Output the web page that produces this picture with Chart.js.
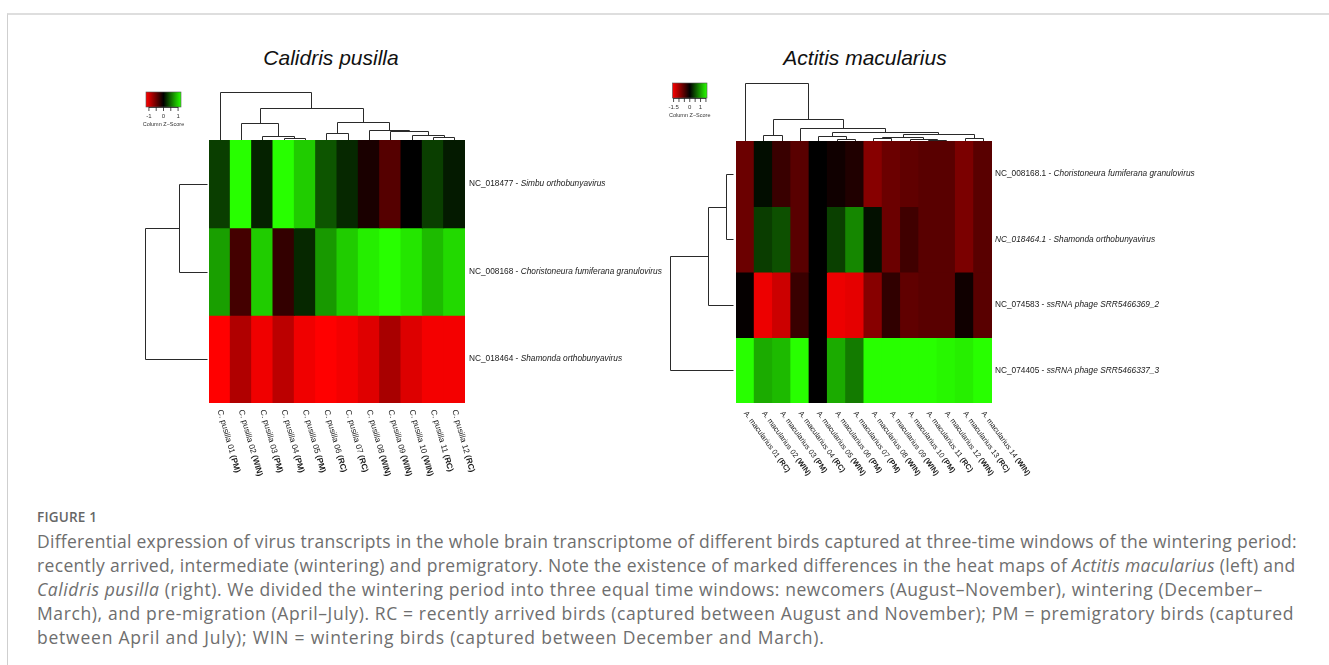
<!DOCTYPE html>
<html><head><meta charset="utf-8">
<script src="https://cdn.jsdelivr.net/npm/chart.js@4.4.1/dist/chart.umd.min.js"></script>
<style>
html,body{margin:0;padding:0;background:#fff;width:1329px;height:665px;overflow:hidden;position:relative;}
#frame{position:absolute;left:7px;top:13px;width:1340px;height:670px;border-top:2px solid #dedede;border-left:1px solid #cfcfcf;}
canvas{position:absolute;top:0;}
#c1{left:0px}
#c2{left:668px}
.title{position:absolute;top:46px;line-height:24px;font-family:"Liberation Sans",Arial,sans-serif;font-style:italic;font-size:21px;color:#111;transform:translateX(-50%);white-space:nowrap;}
#figlabel{position:absolute;left:37px;top:508px;line-height:18px;font-family:"Open Sans",sans-serif;font-weight:600;font-size:13.5px;color:#666;letter-spacing:0.2px;}
#caption{position:absolute;left:37px;top:529px;font-family:"Open Sans",sans-serif;font-size:17.5px;line-height:24px;color:#6e6e6e;white-space:pre;}
#caption span{display:block;}
</style></head>
<body>
<div id="frame"></div>
<div class="title" style="left:331px">Calidris pusilla</div>
<div class="title" style="left:865px">Actitis macularius</div>
<canvas id="c1" width="668" height="500" style="width:668px;height:500px"></canvas>
<canvas id="c2" width="661" height="500" style="width:661px;height:500px"></canvas>
<div id="figlabel">FIGURE 1</div>
<div id="caption"><span style="letter-spacing:0.28px">Differential expression of virus transcripts in the whole brain transcriptome of different birds captured at three-time windows of the wintering period:</span><span style="letter-spacing:0.34px">recently arrived, intermediate (wintering) and premigratory. Note the existence of marked differences in the heat maps of <i>Actitis macularius</i> (left) and</span><span style="letter-spacing:0.57px"><i>Calidris pusilla</i> (right). We divided the wintering period into three equal time windows: newcomers (August–November), wintering (December–</span><span style="letter-spacing:0.62px">March), and pre-migration (April–July). RC = recently arrived birds (captured between August and November); PM = premigratory birds (captured</span><span style="letter-spacing:0.78px">between April and July); WIN = wintering birds (captured between December and March).</span></div>
<script>
// ---------- Calidris pusilla ----------
const cpSamples = ["C. pusilla 01","C. pusilla 02","C. pusilla 03","C. pusilla 04","C. pusilla 05","C. pusilla 06","C. pusilla 07","C. pusilla 08","C. pusilla 09","C. pusilla 10","C. pusilla 11","C. pusilla 12"];
const cpGroups = ["(PM)","(WIN)","(PM)","(PM)","(PM)","(RC)","(RC)","(WIN)","(WIN)","(WIN)","(RC)","(RC)"];
const cpVirusIds = ["NC_018477","NC_008168","NC_018464"];
const cpVirusNames = ["Simbu orthobunyavirus","Choristoneura fumiferana granulovirus","Shamonda orthobunyavirus"];
const cpZSimbu =   [0.29, 1.20, 0.16, 1.20, 0.96, 0.40, 0.19, -0.12, -0.40, 0.00, 0.29, 0.12];
const cpZChoris =  [0.75, -0.32, 0.96, -0.24, 0.19, 0.72, 0.96, 1.12, 1.20, 1.08, 0.88, 1.02];
const cpZShamonda = [-1.20, -0.83, -1.13, -0.88, -1.13, -1.20, -1.15, -1.05, -0.79, -1.04, -1.15, -1.15];
const cpColMerges = [[-4,-5,1.7],[-3,1,4],[-2,2,17.3],[-6,-7,6.7],[-11,-12,3.3],[-10,5,5],[-9,6,9.3],[-8,7,10],[4,8,18.3],[3,9,31.7],[-1,10,48.3]];
const cpRowMerges = [[-1,-2,29],[1,-3,62.6]];
const cpKeyRange = 1.2;
const cpKeyTicks = [-1,-0.5,0,0.5,1];
const cpKeyLabels = ["-1","0","1"];
const cpKeyLabelVals = [-1,0,1];

// ---------- Actitis macularius ----------
const amSamples = ["A. macularius 01","A. macularius 02","A. macularius 03","A. macularius 04","A. macularius 05","A. macularius 06","A. macularius 07","A. macularius 08","A. macularius 09","A. macularius 10","A. macularius 11","A. macularius 12","A. macularius 13","A. macularius 14"];
const amGroups = ["(RC)","(WIN)","(PM)","(RC)","(WIN)","(PM)","(PM)","(WIN)","(WIN)","(PM)","(RC)","(WIN)","(RC)","(WIN)"];
const amVirusIds = ["NC_008168.1","NC_018464.1","NC_074583","NC_074405"];
const amVirusNames = ["Choristoneura fumiferana granulovirus","Shamonda orthobunyavirus","ssRNA phage SRR5466369_2","ssRNA phage SRR5466337_3"];
const amIdItalic = [false,true,false,false];
const amZChoris =  [-0.67, 0.08, -0.36, -0.56, 0, -0.10, -0.20, -0.85, -0.67, -0.60, -0.56, -0.56, -0.77, -0.56];
const amZShamonda = [-0.67, 0.38, 0.50, -0.56, 0, 0.40, 0.85, 0.10, -0.67, -0.40, -0.56, -0.56, -0.77, -0.56];
const amZPhage2 =  [-0.03, -1.49, -1.28, -0.36, 0, -1.49, -1.44, -0.85, -0.30, -0.60, -0.56, -0.56, -0.10, -0.56];
const amZPhage3 =  [1.60, 1.07, 1.17, 1.60, 0, 1.07, 0.77, 1.60, 1.60, 1.60, 1.60, 1.55, 1.50, 1.60];
const amColMerges = [[-6,-7,2],[-5,1,4.7],[-2,-3,5.7],[-8,-9,3],[-11,-12,1.4],[-10,5,2.4],[4,6,4],[-13,-14,3.4],[7,8,7.4],[2,9,9],[-4,10,13],[3,11,22.4],[-1,12,58]];
const amRowMerges = [[-1,-2,7.7],[1,-3,26],[2,-4,63.3]];
const amKeyRange = 1.6;
const amKeyTicks = [-1.5,-1,-0.5,0,0.5,1,1.5];
const amKeyLabels = ["-1.5","0","1"];
const amKeyLabelVals = [-1.5,0,1];

function zColor(z, R) {
  let t = Math.max(-1, Math.min(1, z / R));
  if (t < 0) return `rgb(${Math.round(255 * -t)},0,0)`;
  return `rgb(${Math.round(40 * t)},${Math.round(255 * t)},0)`;
}

function makeHeatmap(canvasId, c) {
  const nRows = c.rows.length;
  const datasets = c.rows.map((zs, r) => ({
    data: zs.map(() => [r, r + 1]),
    backgroundColor: zs.map(z => zColor(z, c.range)),
    borderWidth: 0,
    inflateAmount: 0.5,
    barPercentage: 1,
    categoryPercentage: 1,
    grouped: false
  }));

  const deco = {
    id: 'deco',
    afterDraw(chart) {
      const ctx = chart.ctx;
      const xs = chart.scales.x, ys = chart.scales.y, area = chart.chartArea;
      ctx.save();
      // ---- column dendrogram ----
      ctx.strokeStyle = '#2a2a2a';
      ctx.lineWidth = 1;
      const colPos = [];
      const leafX = i => xs.getPixelForValue(i - 1);
      function colNode(id) {
        if (id < 0) return { x: leafX(-id), h: 0 };
        return colPos[id - 1];
      }
      const topY = area.top;
      c.colMerges.forEach(m => {
        const a = colNode(m[0]), b = colNode(m[1]);
        const yh = Math.round(topY - m[2] * c.dendroUnit) + 0.5;
        const ya = a.h === 0 ? topY : Math.round(topY - a.h * c.dendroUnit) + 0.5;
        const yb = b.h === 0 ? topY : Math.round(topY - b.h * c.dendroUnit) + 0.5;
        const xa = Math.round(a.x) + 0.5, xb = Math.round(b.x) + 0.5;
        ctx.beginPath();
        ctx.moveTo(xa, ya); ctx.lineTo(xa, yh); ctx.lineTo(xb, yh); ctx.lineTo(xb, yb);
        ctx.stroke();
        colPos.push({ x: (a.x + b.x) / 2, h: m[2] });
      });
      // ---- row dendrogram ----
      const rowPos = [];
      const leafY = i => ys.getPixelForValue(i - 1 + 0.5);
      const leftX = area.left - c.rowGap;
      function rowNode(id) {
        if (id < 0) return { y: leafY(-id), h: 0 };
        return rowPos[id - 1];
      }
      c.rowMerges.forEach(m => {
        const a = rowNode(m[0]), b = rowNode(m[1]);
        const xh = Math.round(leftX - m[2] * c.dendroUnit) + 0.5;
        const xa = a.h === 0 ? leftX : Math.round(leftX - a.h * c.dendroUnit) + 0.5;
        const xb = b.h === 0 ? leftX : Math.round(leftX - b.h * c.dendroUnit) + 0.5;
        const ya = Math.round(a.y) + 0.5, yb = Math.round(b.y) + 0.5;
        ctx.beginPath();
        ctx.moveTo(xa, ya); ctx.lineTo(xh, ya); ctx.lineTo(xh, yb); ctx.lineTo(xb, yb);
        ctx.stroke();
        rowPos.push({ y: (a.y + b.y) / 2, h: m[2] });
      });
      // ---- row labels ----
      ctx.fillStyle = '#1a1a1a';
      ctx.textBaseline = 'middle';
      ctx.textAlign = 'left';
      const fam = '"Liberation Sans", Arial, sans-serif';
      c.rowIds.forEach((id, r) => {
        const y = ys.getPixelForValue(r + 0.5);
        let x = area.right + c.rowLabelGap;
        const it = c.idItalic && c.idItalic[r];
        ctx.font = (it ? 'italic ' : '') + c.rowFont + 'px ' + fam;
        const pre = id + ' - ';
        ctx.fillText(pre, x, y);
        x += ctx.measureText(pre).width;
        ctx.font = 'italic ' + c.rowFont + 'px ' + fam;
        ctx.fillText(c.rowNames[r], x, y);
      });
      // ---- column labels (rotated) ----
      c.samples.forEach((s, i) => {
        const x0 = xs.getPixelForValue(i);
        const y0 = area.bottom + c.colLabelGap;
        ctx.save();
        ctx.translate(x0, y0);
        ctx.rotate(c.colLabelAngle * Math.PI / 180);
        ctx.font = c.colFont + 'px ' + fam;
        ctx.textBaseline = 'middle';
        const main = s + ' ';
        ctx.fillText(main, 0, 0);
        const w = ctx.measureText(main).width;
        ctx.font = 'bold ' + c.colFont + 'px ' + fam;
        ctx.fillText(c.groups[i], w, 0);
        ctx.restore();
      });
      // ---- colour key ----
      const k = c.key;
      const kx = v => k.x0 + (v + c.range) / (2 * c.range) * (k.x1 - k.x0);
      const grad = ctx.createLinearGradient(k.x0, 0, k.x1, 0);
      for (let j = 0; j <= 20; j++) {
        const v = -c.range + j / 20 * 2 * c.range;
        grad.addColorStop(j / 20, zColor(v, c.range));
      }
      ctx.fillStyle = grad;
      ctx.fillRect(k.x0, k.y0, k.x1 - k.x0, k.y1 - k.y0);
      ctx.strokeStyle = '#555';
      ctx.lineWidth = 0.6;
      ctx.strokeRect(k.x0, k.y0, k.x1 - k.x0, k.y1 - k.y0);
      ctx.strokeStyle = '#222';
      ctx.lineWidth = 0.8;
      ctx.beginPath();
      ctx.moveTo(kx(c.keyTicks[0]), k.y1 + 0.5);
      ctx.lineTo(kx(c.keyTicks[c.keyTicks.length - 1]), k.y1 + 0.5);
      c.keyTicks.forEach(v => { ctx.moveTo(kx(v), k.y1); ctx.lineTo(kx(v), k.y1 + 4); });
      ctx.stroke();
      ctx.fillStyle = '#333';
      ctx.font = '6px ' + fam;
      ctx.textAlign = 'center';
      ctx.textBaseline = 'middle';
      c.keyLabels.forEach((lab, j) => ctx.fillText(lab, kx(c.keyLabelVals[j]), k.y1 + 9));
      ctx.font = '5.5px ' + fam;
      ctx.fillText('Column Z\u2212Score', (k.x0 + k.x1) / 2, k.y1 + 17);
      ctx.restore();
    }
  };

  return new Chart(document.getElementById(canvasId), {
    type: 'bar',
    data: { labels: c.samples.map((s, i) => s + ' ' + c.groups[i]), datasets },
    options: {
      responsive: false,
      animation: false,
      events: [],
      layout: { padding: c.padding },
      plugins: { legend: { display: false }, tooltip: { enabled: false }, title: { display: false } },
      scales: {
        x: { type: 'category', display: false, offset: true },
        y: { type: 'linear', display: false, min: 0, max: nRows, reverse: true }
      }
    },
    plugins: [deco]
  });
}

makeHeatmap('c1', {
  samples: cpSamples, groups: cpGroups, rowIds: cpVirusIds, rowNames: cpVirusNames,
  rows: [cpZSimbu, cpZChoris, cpZShamonda], range: cpKeyRange,
  colMerges: cpColMerges, rowMerges: cpRowMerges, dendroUnit: 1, rowGap: 1.5,
  rowLabelGap: 4, rowFont: 8.3, colFont: 8.2, colLabelGap: 7, colLabelAngle: 74,
  key: { x0: 146, x1: 181, y0: 92, y1: 107 },
  keyTicks: cpKeyTicks, keyLabels: cpKeyLabels, keyLabelVals: cpKeyLabelVals,
  padding: { left: 209, right: 203, top: 140, bottom: 97 }
});

makeHeatmap('c2', {
  samples: amSamples, groups: amGroups, rowIds: amVirusIds, rowNames: amVirusNames, idItalic: amIdItalic,
  rows: [amZChoris, amZShamonda, amZPhage2, amZPhage3], range: amKeyRange,
  colMerges: amColMerges, rowMerges: amRowMerges, dendroUnit: 1, rowGap: 2.5,
  rowLabelGap: 3, rowFont: 8.3, colFont: 7.5, colLabelGap: 9, colLabelAngle: 54,
  key: { x0: 4.5, x1: 39, y0: 83, y1: 98 },
  keyTicks: amKeyTicks, keyLabels: amKeyLabels, keyLabelVals: amKeyLabelVals,
  padding: { left: 68, right: 337, top: 141, bottom: 97 }
});
</script>
</body></html>
